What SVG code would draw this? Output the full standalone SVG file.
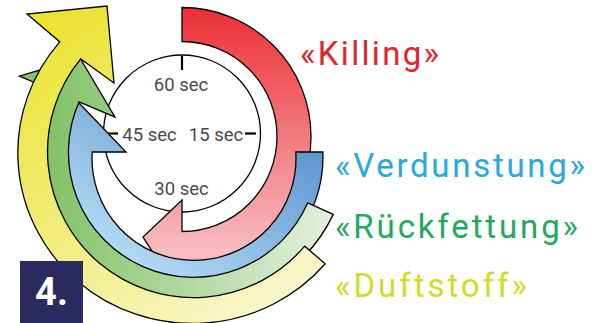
<svg xmlns="http://www.w3.org/2000/svg" width="600" height="323" viewBox="0 0 600 323">
  <style>
    .arrow { stroke: #000; stroke-width: 1.3; stroke-linejoin: miter; }
    .clk { font-family: Roboto, "Liberation Sans", sans-serif; font-size: 18.5px; fill: #4a4a4a; text-anchor: middle; }
    .lbl { font-family: Roboto, "Liberation Sans", sans-serif; font-size: 33px; }
    .tick { stroke: #000; stroke-width: 2.2; }
  </style>
  <defs>
    <linearGradient id="gRed" gradientUnits="userSpaceOnUse" x1="0" y1="8" x2="0" y2="250">
      <stop offset="0" stop-color="#ec2f34"/>
      <stop offset="1" stop-color="#f8bcc0"/>
    </linearGradient>
    <linearGradient id="gBlue" x1="1" y1="0" x2="0" y2="1">
      <stop offset="0" stop-color="#4a86c6"/>
      <stop offset="0.75" stop-color="#b0d8f2"/>
      <stop offset="1" stop-color="#b5dcf4"/>
    </linearGradient>
    <linearGradient id="gGreen" gradientUnits="userSpaceOnUse" x1="55" y1="0" x2="330" y2="0">
      <stop offset="0" stop-color="#84c36a"/>
      <stop offset="1" stop-color="#e3f0dc"/>
    </linearGradient>
    <linearGradient id="gYellow" x1="0.1" y1="0" x2="0.8" y2="1">
      <stop offset="0" stop-color="#ebe22d"/>
      <stop offset="1" stop-color="#f9f7cf"/>
    </linearGradient>
  </defs>

  <g id="clock">
    <circle cx="182" cy="133.5" r="78.5" fill="#fff" stroke="#000" stroke-width="1.3"/>
    <line class="tick" x1="182" y1="56" x2="182" y2="70"/>
    <line class="tick" x1="245" y1="133.5" x2="256" y2="133.5"/>
    <line class="tick" x1="107" y1="133.5" x2="118" y2="133.5"/>
    <text class="clk" x="181" y="91">60 sec</text>
    <text class="clk" x="149.5" y="141">45 sec</text>
    <text class="clk" x="216" y="141">15 sec</text>
    <text class="clk" x="181.5" y="195">30 sec</text>
  </g>

  <g id="connectors">
    <path id="arrow-red" class="arrow" fill="url(#gRed)" d="M 182,7.5 A 129 129 0 0 1 182,265.5 L 182,297 L 143,237 L 182,200 L 182,231.5 A 95 95 0 0 0 182,41.5 Z"/>
    <path id="arrow-blue" class="arrow" fill="url(#gBlue)" d="M 322.9,152 A 129 129 0 1 1 65.1,152 L 31,152 L 79,103 L 126,152 L 92.2,152 A 102 102 0 1 0 295.8,152 Z"/>
    <path id="arrow-green" class="arrow" fill="url(#gGreen)" d="M 333.2,214.4 A 153 153 0 0 1 53.4,90.7 L 19.4,76.2 L 80,58 L 115,117.1 L 79.1,101.8 A 125 125 0 0 0 307.8,202.8 Z"/>
    <path id="arrow-yellow" class="arrow" fill="url(#gYellow)" d="M 325.2,263.8 A 173 169 0 0 1 59.8,41.9 L 27,14 L 107,6 L 114,83 L 80.7,58.9 A 146 146 0 0 0 304.7,246.2 Z"/>
  </g>

  <g id="step">
    <rect x="20" y="261" width="63" height="62" fill="#2b2a5f"/>
    <text x="51.5" y="305" font-family="Roboto, 'Liberation Sans', sans-serif" font-weight="bold" font-size="38" fill="#fff" text-anchor="middle">4.</text>
  </g>

  <g id="label-killing"><text class="lbl" x="300" y="65" fill="#e52229" textLength="139" lengthAdjust="spacing">«Killing»</text></g>
  <g id="label-verdunstung"><text class="lbl" x="335" y="176.7" fill="#27a8e0" textLength="250" lengthAdjust="spacing">«Verdunstung»</text></g>
  <g id="label-rueckfettung"><text class="lbl" x="335" y="238.3" fill="#21aa5c" textLength="243" lengthAdjust="spacing">«Rückfettung»</text></g>
  <g id="label-duftstoff"><text class="lbl" x="335" y="296.7" fill="#d3db24" textLength="192" lengthAdjust="spacing">«Duftstoff»</text></g>
</svg>
